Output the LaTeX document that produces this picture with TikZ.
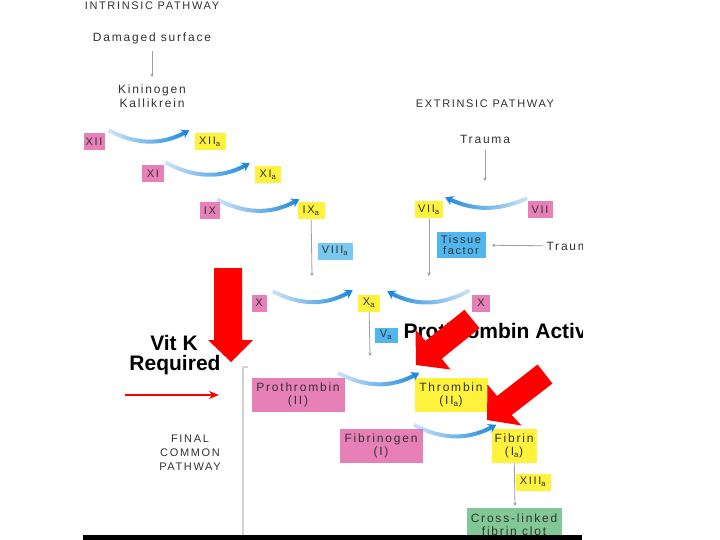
\documentclass[tikz,border=0pt]{standalone}
\usepackage{fontspec}
\setmainfont{Liberation Sans}
\newfontfamily\spaced[LetterSpace=15]{Liberation Sans}
\usetikzlibrary{arrows.meta,fadings}
\tikzfading[name=fadeR, left color=transparent!80, right color=transparent!0]
\tikzfading[name=fadeL, left color=transparent!0, right color=transparent!80]
\definecolor{pinkf}{RGB}{232,128,184}
\definecolor{yelf}{RGB}{255,242,60}
\definecolor{bluef}{RGB}{80,182,235}
\definecolor{lbluef}{RGB}{120,200,240}
\definecolor{greenf}{RGB}{130,200,150}
\definecolor{arcblue}{RGB}{25,135,220}
\definecolor{txt}{RGB}{50,50,50}
\begin{document}
\begin{tikzpicture}[x=1pt,y=-1pt,
  fac/.style={inner sep=1pt, font=\spaced\fontsize{11}{11}\selectfont, text=txt, minimum height=17pt, align=center},
  bigfac/.style={fac, font=\spaced\fontsize{12}{13}\selectfont, minimum height=34pt},
  pinkbox/.style={fac, fill=pinkf},
  yelbox/.style={fac, fill=yelf},
  bluebox/.style={fac, fill=bluef},
  greenbox/.style={fac, fill=greenf},
  lbl/.style={font=\spaced\fontsize{12}{14}\selectfont, text=txt, align=center},
  ttl/.style={font=\spaced\fontsize{11}{14}\selectfont, text=txt, align=center},
  conn/.style={draw=gray!75, line width=0.8pt, -{Stealth[length=3.5pt,width=3.5pt]}},
  arcR/.style={draw=arcblue, line width=4pt, -{Stealth[length=8pt,width=10pt]}, path fading=fadeR},
  arcL/.style={draw=arcblue, line width=4pt, -{Stealth[length=8pt,width=10pt]}, path fading=fadeL},
  big/.style={font=\bfseries\fontsize{21}{23}\selectfont, text=black},
  redarrow/.style={fill=red, draw=none}]
\useasboundingbox (0,0) rectangle (720,540);
\fill[white] (0,0) rectangle (720,540);
\begin{scope}
\clip (0,0) rectangle (582,535);
% intrinsic
\node[ttl] (title) at (152,6) {INTRINSIC PATHWAY};
\node[lbl] (dam) at (152,38) {Damaged surface};
\node[lbl] (kin) at (152,96) {Kininogen\\Kallikrein};
\draw[conn, shorten <=4pt, shorten >=4pt] (dam) -- (kin);
\node[pinkbox, minimum width=21pt] (xii) at (94,142) {XII};
\node[yelbox, minimum width=31pt] (xiia) at (210,142) {XII\textsubscript{a}};
\node[pinkbox, minimum width=22pt] (xi) at (153,174) {XI};
\node[yelbox, minimum width=26pt] (xia) at (268,175) {XI\textsubscript{a}};
\node[pinkbox, minimum width=20pt] (ix) at (210,211) {IX};
\node[yelbox, minimum width=27pt] (ixa) at (311,211) {IX\textsubscript{a}};
\draw[arcR] ([shift={(4,-3)}]xii.north east) to[bend right=28] ([shift={(-5,-3)}]xiia.north west);
\draw[arcR] ([shift={(1,-3)}]xi.north east) to[bend right=28] ([shift={(-5,-3)}]xia.north west);
\draw[arcR] ([shift={(-3,-3)}]ix.north east) to[bend right=28] ([shift={(2,-3)}]ixa.north west);
\node[bluebox, fill=lbluef, minimum width=35pt] (viiia) at (335,251) {VIII\textsubscript{a}};
\coordinate (ixaend) at (312,276);
\draw[conn] (ixa) -- (ixaend);
% extrinsic
\node[ttl] (ext) at (485,104) {EXTRINSIC PATHWAY};
\node[lbl] (trauma) at (485,139) {Trauma};
\coordinate (tend) at (485,181);
\draw[conn, shorten <=3pt] (trauma) -- (tend);
\node[yelbox, minimum width=28pt] (viia) at (429,210) {VII\textsubscript{a}};
\node[pinkbox, minimum width=25pt] (vii) at (540,210) {VII};
\draw[arcL] ([shift={(0,-3)}]vii.north west) to[bend left=24] ([shift={(2,-4)}]viia.north east);
\node[bluebox, minimum width=49pt, minimum height=26pt] (tf) at (461,245) {Tissue\\factor};
\node[lbl, anchor=west] (traun) at (543,246) {Trauma};
\draw[conn, shorten >=6pt] (traun) -- (tf);
\coordinate (viiaend) at (429,276);
\draw[conn] (viia) -- (viiaend);
% X row
\node[pinkbox, minimum width=15pt] (xl) at (259,303) {X};
\node[yelbox, minimum width=22pt] (xa) at (369,303) {X\textsubscript{a}};
\node[pinkbox, minimum width=18pt] (xr) at (481,303) {X};
\draw[arcR] ([shift={(6,-3)}]xl.north east) to[bend right=28] ([shift={(-5,-4)}]xa.north west);
\draw[arcL] ([shift={(-2,-4)}]xr.north west) to[bend left=28] ([shift={(7,-3)}]xa.north east);
\node[bluebox, minimum width=23pt, minimum height=15pt] (va) at (386,335) {V\textsubscript{a}};
\coordinate (xaend) at (370,356);
\draw[conn] (xa) -- (xaend);
\node[big, anchor=base west] (pa) at (400,338) {Prothrombin Activator};
% common pathway
\node[pinkbox, bigfac, minimum width=93pt] (pro) at (298,395) {Prothrombin\\(II)};
\node[yelbox, bigfac, minimum width=73pt] (thr) at (451,395) {Thrombin\\(II\textsubscript{a})};
\draw[arcR] ([shift={(-7,-5)}]pro.north east) to[bend right=28] ([shift={(5,-5)}]thr.north west);
\node[pinkbox, bigfac, minimum width=83pt] (fib) at (381,446) {Fibrinogen\\(I)};
\node[yelbox, bigfac, minimum width=45pt] (fibrin) at (514,446) {Fibrin\\(I\textsubscript{a})};
\draw[arcR] ([shift={(-9,-4)}]fib.north east) to[bend right=28] ([shift={(5,-4)}]fibrin.north west);
\node[yelbox, minimum width=35pt] (xiiia) at (533,482) {XIII\textsubscript{a}};
\coordinate (fend) at (515,506);
\draw[conn] (fibrin) -- (fend);
\node[greenbox, bigfac, minimum width=95pt] (clot) at (514,525) {Cross-linked\\fibrin clot};
\node[ttl] (final) at (190,453) {FINAL\\COMMON\\PATHWAY};
% vit K
\node[big, anchor=base] (vit) at (174,350) {Vit K};
\node[big, anchor=base] (req) at (175,370) {Required};
\coordinate (ra1) at (125,395);
\coordinate (ra2) at (219,395);
\draw[red, line width=2.5pt, -{Stealth[length=10pt,width=8pt]}] (ra1) -- (ra2);
\coordinate (gl1) at (243,367);
\coordinate (gl2) at (243,540);
\draw[gray!35, line width=1.3pt] (248,367) -- (gl1) -- (gl2);
% red arrows
\fill[redarrow] (214,268) -- (242,268) -- (242,340) -- (253,340) -- (231,362) -- (208,340) -- (214,340) -- cycle;
\fill[redarrow] (464.4,309.8) -- (425.5,340.9) -- (415.5,329.5) -- (416,365) -- (450.5,369.5) -- (441.8,358.7) -- (479.6,328.2) -- cycle;
\fill[redarrow] (537.6,364.5) -- (497.1,396.0) -- (487.5,384.5) -- (487,420) -- (521.5,425.5) -- (511.7,415.0) -- (552.4,383.5) -- cycle;
\end{scope}
\fill[black] (83,535) rectangle (582,540);
\end{tikzpicture}
\end{document}
